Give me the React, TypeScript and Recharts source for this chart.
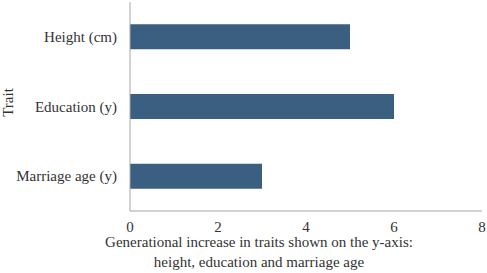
import React from 'react';
import { BarChart, Bar, XAxis, YAxis } from 'recharts';

const traits = ['Height (cm)', 'Education (y)', 'Marriage age (y)'];
const increases = [5, 6, 3];
const xTicks = [0, 2, 4, 6, 8];
const xLabelLines = ['Generational increase in traits shown on the y-axis:', 'height, education and marriage age'];
const yLabel = 'Trait';

const data = traits.map((t, i) => ({ trait: t, value: increases[i] }));

const FONT = "'Liberation Serif', 'Times New Roman', Times, 'DejaVu Serif', serif";
const TEXT = '#333333';
const AXIS = '#a6a6a6';

const XLabel = () => (
  <text x={259} y={247} textAnchor="middle" style={{ fontFamily: FONT }} fontSize={15} fill={TEXT}>
    {xLabelLines.map((l, i) => (
      <tspan key={i} x={259} dy={i === 0 ? 0 : 20}>{l}</tspan>
    ))}
  </text>
);

const YLabel = () => (
  <text x={13} y={102.5} transform="rotate(-90 13 102.5)" textAnchor="middle" style={{ fontFamily: FONT }} fontSize={15} fill={TEXT}>
    {yLabel}
  </text>
);

export default function App() {
  return (
    <div style={{ position: 'absolute', left: 0, top: 0, width: 487, height: 273, background: '#fff', fontFamily: FONT }}>
      <BarChart
        width={487}
        height={273}
        data={data}
        layout="vertical"
        margin={{ top: 2, right: 5, left: 0, bottom: 0 }}
        barCategoryGap="32%"
        style={{ fontFamily: FONT }}
      >
        <XAxis
          type="number"
          domain={[0, 8]}
          ticks={xTicks}
          height={62}
          tickLine={false}
          axisLine={{ stroke: AXIS }}
          tick={{ fontSize: 15, fill: TEXT, style: { fontFamily: FONT } }}
          tickMargin={4}
          interval={0}
          label={<XLabel />}
        />
        <YAxis
          type="category"
          dataKey="trait"
          width={130}
          tickLine={false}
          axisLine={{ stroke: AXIS }}
          tick={{ fontSize: 15, fill: TEXT, style: { fontFamily: FONT } }}
          tickMargin={7}
          label={<YLabel />}
        />
        <Bar dataKey="value" fill="#3b5f80" isAnimationActive={false} />
      </BarChart>
    </div>
  );
}
